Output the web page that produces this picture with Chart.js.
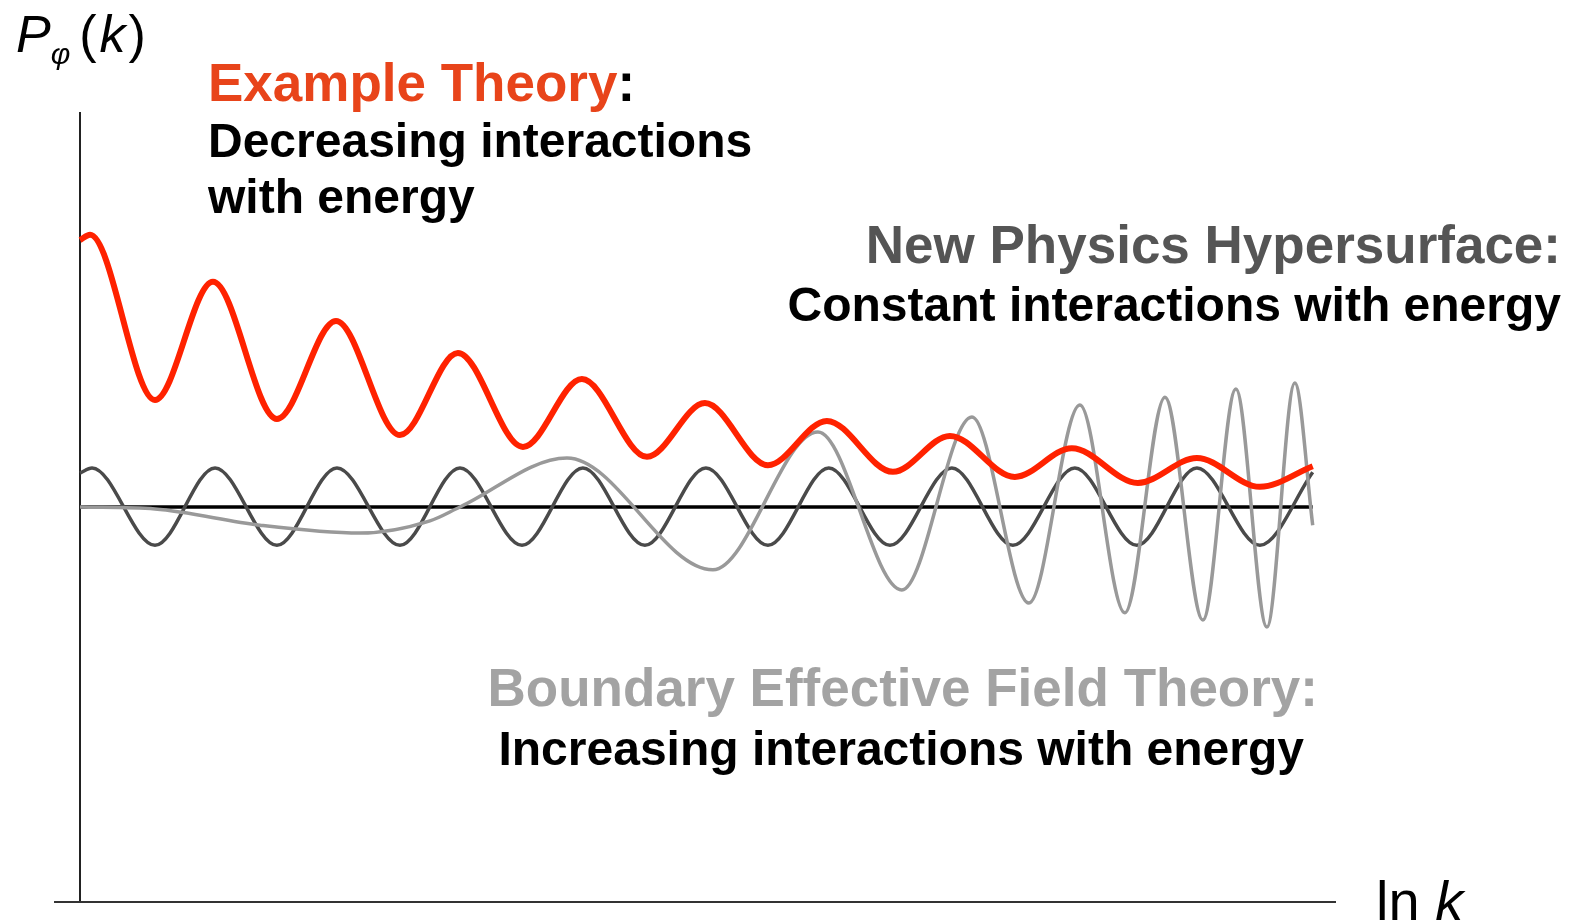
<!DOCTYPE html>
<html>
<head>
  <title>P(k) vs ln k</title>
  <style>
    body { margin: 0; background: #fff; }
    .wrap {
      position: relative;
      width: 1576px;
      height: 924px;
      font-family: "Liberation Sans", Arial, Helvetica, sans-serif;
    }
    .lbl {
      position: absolute;
      line-height: 1;
      white-space: nowrap;
      font-weight: bold;
    }
    .big { font-size: 53px; }
    .small { font-size: 48px; color: #000; }
    .right { text-align: right; }
  </style>
</head>
<body>
  <div class="wrap">
    <canvas id="chart"></canvas>

    <!-- y axis title -->
    <div class="lbl" style="left:16px; top:8px; font-size:52px; font-weight:normal;">
      <i>P</i><i style="font-size:30px; position:relative; top:12px;">φ</i><span style="margin-left:9px; letter-spacing:3px;">(<i>k</i>)</span>
    </div>
    <!-- x axis title -->
    <div class="lbl" style="left:1376px; top:873px; font-size:56px; font-weight:normal;">ln <i>k</i></div>

    <div class="lbl big" style="left:208px; top:56px;"><span style="color:#e8441a;">Example Theory</span>:</div>
    <div class="lbl small" style="left:208px; top:117px;">Decreasing interactions</div>
    <div class="lbl small" style="left:208px; top:173px;">with energy</div>

    <div class="lbl big right" style="right:15px; top:218px; color:#555;">New Physics Hypersurface:</div>
    <div class="lbl small right" style="right:15px; top:281px;">Constant interactions with energy</div>

    <div class="lbl big right" style="right:258px; top:661px; color:#a3a3a3;">Boundary Effective Field Theory:</div>
    <div class="lbl small right" style="right:272px; top:725px;">Increasing interactions with energy</div>
  </div>

  <script src="https://cdn.jsdelivr.net/npm/chart.js"></script>
  <script>
    // values: x = ln k, y = P (baseline at 0)
    // example theory (red), points at the turning points
    const redX = [0, 0.082, 0.612, 1.085, 1.607, 2.089, 2.611, 3.084, 3.615, 4.096, 4.627, 5.100, 5.614, 6.095, 6.634, 7.099, 7.629, 8.094, 8.633, 9.115, 9.629, 10.06];
    const redY = [6.76, 6.89, 2.71, 5.70, 2.23, 4.71, 1.82, 3.90, 1.52, 3.24, 1.27, 2.63, 1.06, 2.18, 0.89, 1.80, 0.76, 1.49, 0.61, 1.24, 0.51, 1.03];

    // new physics hypersurface (dark grey)
    const darkX = [0, 0.098, 0.612, 1.102, 1.607, 2.097, 2.611, 3.101, 3.607, 4.104, 4.610, 5.108, 5.614, 6.111, 6.610, 7.115, 7.613, 8.119, 8.625, 9.115, 9.629, 10.06];
    const darkY = [0.86, 0.99, -0.97, 0.99, -0.97, 0.99, -0.97, 0.99, -0.97, 0.99, -0.97, 0.99, -0.97, 0.99, -0.97, 0.99, -0.97, 0.99, -0.97, 0.99, -0.97, 0.88];

    // boundary EFT (light grey)
    const lightX = [0, 0.612, 1.469, 2.285, 2.856, 3.101, 3.974, 5.165, 6.022, 6.707, 7.279, 7.744, 8.160, 8.527, 8.854, 9.164, 9.433, 9.686, 9.914, 10.06];
    const lightY = [0, -0.05, -0.46, -0.66, -0.35, 0, 1.24, -1.59, 1.90, -2.10, 2.28, -2.43, 2.58, -2.68, 2.78, -2.86, 2.99, -3.04, 3.14, -0.46];

    const baseX = [0, 10.06];
    const baseY = [0, 0];

    // axis extents
    const xMin = 0, xMax = 10.25, yMin = -10, yMax = 10;
    const xAxisStart = -0.212;

    const pts = (xs, ys) => xs.map((x, i) => ({ x: x, y: ys[i] }));

    const ds = (data, color, width) => ({
      data: data,
      showLine: true,
      borderColor: color,
      borderWidth: width,
      pointRadius: 0,
      fill: false,
      clip: false,
      cubicInterpolationMode: 'monotone',
      borderCapStyle: 'butt'
    });

    new Chart(document.getElementById('chart'), {
      type: 'scatter',
      data: {
        datasets: [
          ds(pts(redX, redY), '#ff2200', 6),
          ds(pts(lightX, lightY), '#999999', 3.5),
          ds(pts(darkX, darkY), '#4a4a4a', 3.5),
          ds(pts(baseX, baseY), '#000000', 3.5),
          // axes
          Object.assign(ds([{ x: xAxisStart, y: yMin }, { x: xMax, y: yMin }], '#333333', 2), { cubicInterpolationMode: 'default' }),
          Object.assign(ds([{ x: xMin, y: yMin }, { x: xMin, y: yMax }], '#222222', 2), { cubicInterpolationMode: 'default' })
        ]
      },
      options: {
        responsive: true,
        maintainAspectRatio: false,
        animation: false,
        layout: { padding: { left: 80, right: 240, top: 112, bottom: 22 } },
        plugins: { legend: { display: false }, tooltip: { enabled: false } },
        scales: {
          x: { type: 'linear', display: false, min: xMin, max: xMax },
          y: { type: 'linear', display: false, min: yMin, max: yMax }
        }
      }
    });
  </script>
</body>
</html>
